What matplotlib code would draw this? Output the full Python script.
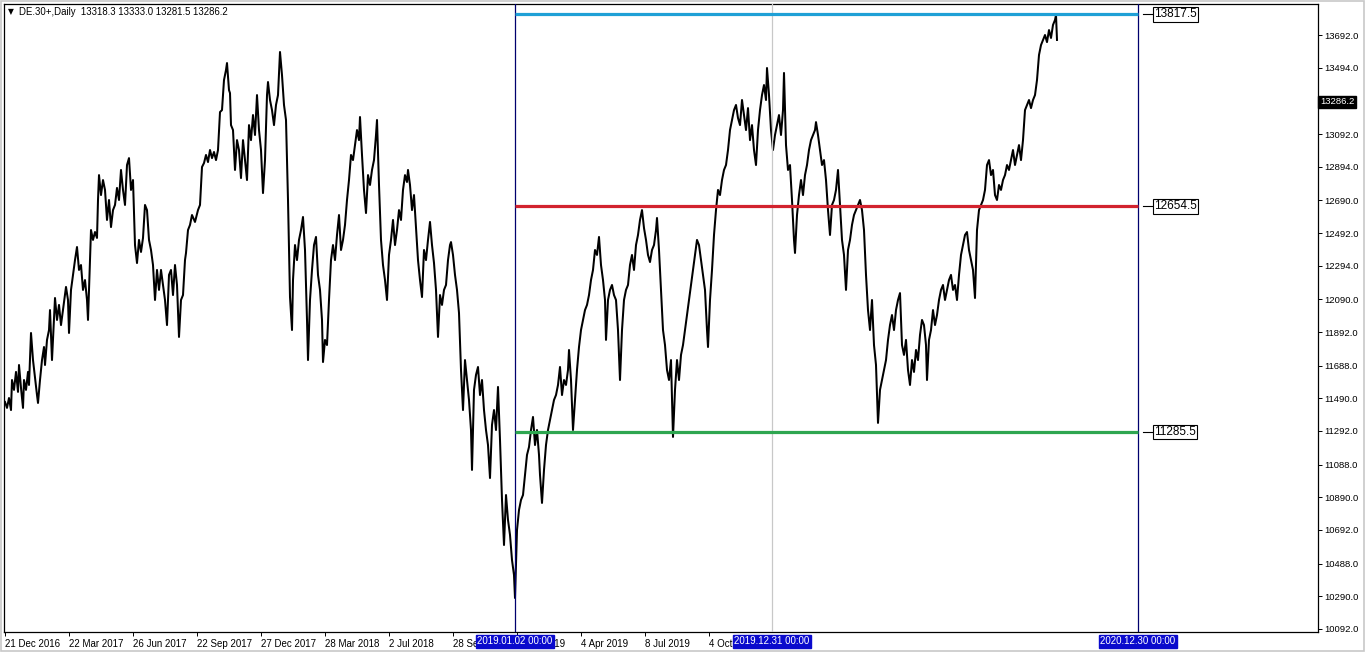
import matplotlib
matplotlib.use("Agg")
import matplotlib.pyplot as plt
from matplotlib.transforms import blended_transform_factory
import matplotlib.patches as mpatches

plt.rcParams['font.family'] = ['Liberation Sans', 'DejaVu Sans']

# ---------------- data ----------------
symbol = "DE.30+,Daily"
last_ohlc = ["13318.3", "13333.0", "13281.5", "13286.2"]
current_price = 13286.2

bar_idx = [
    0, 2, 4, 6, 7, 9, 11, 13, 14, 16, 18, 19, 21, 23, 24, 26, 28, 30, 32, 33, 35, 37, 39, 40, 42, 44, 45, 47, 49, 50,
    52, 54, 56, 58, 60, 61, 63, 64, 66, 68, 70, 72, 74, 76, 78, 80, 82, 83, 84, 86, 88, 90, 92, 93, 94, 96, 98, 100,
    102, 104, 106, 108, 110, 112, 114, 116, 118, 120, 122, 124, 126, 128, 130, 132, 134, 136, 138, 140, 142, 144,
    146, 148, 150, 152, 154, 156, 158, 160, 162, 164, 166, 168, 170, 172, 174, 176, 178, 180, 181, 183, 185, 187,
    190, 193, 195, 197, 199, 201, 203, 205, 207, 209,
    211, 213, 215, 217, 219, 221, 222, 224, 225, 226, 228, 230, 232, 234, 236, 238, 240, 242, 244, 246, 248, 250,
    252, 254, 256, 258, 260, 262, 263, 265, 267, 269, 271, 273, 275, 277, 279, 281, 283, 284, 285, 287, 288, 290,
    292, 294, 296, 298, 300, 302, 303, 305, 307, 309, 311, 313, 315, 317, 318, 320, 322, 324, 326, 328, 330, 332,
    334, 336, 338, 340, 342, 344, 346, 348, 350, 352, 354, 355, 357, 359, 361, 363, 365, 367, 369, 371, 372, 374,
    376, 378, 380, 382, 384, 386, 388, 390, 392, 394, 396, 398, 400, 402, 403, 405, 407, 409, 411, 413, 415, 417,
    419, 421, 423, 425,
    427, 429, 431, 433, 435, 437, 439, 441, 443, 445, 446, 448, 450, 452, 454, 456, 458, 460, 462, 464, 466, 467,
    469, 471, 473, 475, 477, 479, 481, 483, 485, 487, 489, 491, 493, 495, 497, 499, 501, 503, 505, 507, 509, 510,
    512, 514, 516, 518, 520, 522, 524, 526, 528, 530, 532, 534, 535, 537, 539, 541, 543, 545, 547, 549, 551, 553,
    555, 557, 559, 561, 563, 564, 566, 568, 570, 572, 574, 576, 578, 580, 582, 584, 586, 588, 590, 592, 594, 596,
    598, 600, 601, 603, 605, 607, 609, 611, 613, 615, 617, 619, 621, 623, 625, 627, 629, 631, 633, 635, 637, 639,
    641, 643, 645, 647, 649, 651, 652, 654, 656, 658, 660, 662, 664, 666, 668, 670, 672, 674, 676, 678, 680, 682,
    684, 686, 688, 690, 692, 694, 696, 698, 700, 702, 703, 705, 707, 709, 711, 713, 715, 717, 719, 721, 723, 725,
    727, 729, 731, 733, 735, 737, 739, 741, 743, 745, 747, 749, 751, 753, 755, 757, 759, 761, 762, 764, 766, 768,
    770, 772, 774, 776, 778, 779, 781, 783, 785, 787, 789, 790, 792, 794, 796, 798, 800, 802, 804, 806, 808, 810,
    811, 813, 815, 817, 819, 821, 823, 825, 827, 829, 831, 833, 835, 837, 839, 841, 843, 845, 847, 849, 851, 853,
    855,
    857, 859, 861, 863, 865, 867, 869, 871, 873, 875, 877, 879, 881, 883, 885, 887, 889, 891, 893, 895, 897, 899,
    901, 903, 905, 907, 909, 911, 913, 915, 917, 919, 921, 922, 924, 926, 928, 930, 932, 934, 936, 938, 940, 942,
    944, 946, 948, 950, 952, 954, 956, 958, 960, 962, 964, 966, 968, 970, 972, 974, 976, 978, 980, 982, 984, 986,
    988, 990, 992, 994, 996, 998, 1000, 1002, 1004, 1006, 1008, 1010, 1012, 1014, 1016, 1018, 1020, 1022, 1024,
    1026, 1028, 1030, 1032, 1034, 1036, 1038, 1040, 1042, 1044, 1046, 1048, 1050, 1051, 1052,
]

price = [
    11468, 11432, 11492, 11419, 11601, 11541, 11650, 11529, 11692, 11553, 11432, 11601, 11541, 11650, 11571, 11886,
    11722, 11613, 11510, 11462, 11601, 11722, 11801, 11692, 11844, 11904, 12025, 11722, 11965, 12098,
    11965, 12056, 11934, 12025, 12116, 12165, 12086, 11886, 12147, 12238, 12328, 12407, 12268, 12298, 12147, 12207,
    12086, 11965, 12147, 12510, 12450, 12498, 12462, 12692, 12843, 12722, 12813, 12753,
    12571, 12692, 12528, 12631, 12662, 12765, 12692, 12874, 12753, 12662, 12904, 12946, 12753, 12813, 12419, 12310,
    12450, 12377, 12462, 12662, 12631, 12450,
    12389, 12298, 12086, 12268, 12147, 12268, 12177, 12086, 11934, 12238, 12268, 12116, 12298, 12177, 11862, 12086,
    12116, 12328, 12371, 12510, 12541, 12601,
    12559, 12631, 12662, 12892, 12916, 12965, 12922, 12995, 12946, 12983,
    12934, 12995, 13225, 13237, 13419, 13480, 13522, 13358, 13340, 13146, 13116, 12874, 13055, 12995, 12825, 13055,
    12934, 12813, 13146, 13055, 13207, 13086,
    13328, 13116, 12995, 12734, 12934, 13328, 13407, 13298, 13237, 13146, 13268, 13328, 13589, 13449, 13268, 13177,
    12692, 12389, 12104, 11904, 12207, 12419,
    12328, 12450, 12510, 12589, 12389, 11965, 11722, 12086, 12268, 12419, 12468, 12238, 12147, 11965, 11710, 11844,
    11813, 12086, 12328, 12419, 12328, 12480,
    12601, 12389, 12450, 12541, 12692, 12813, 12965, 12934, 13025, 13116, 13055, 13195, 12965, 12753, 12613, 12843,
    12783, 12874, 12934, 13086, 13177, 12783,
    12450, 12298, 12207, 12086, 12359, 12450, 12571, 12419, 12510, 12631, 12571, 12753, 12843, 12801, 12874, 12783,
    12631, 12722, 12528, 12328, 12207, 12104,
    12389, 12328, 12450, 12559,
    12419, 12310, 12147, 11862, 12116, 12056, 12147, 12177, 12328, 12419, 12437, 12359, 12238, 12147, 12007, 11662,
    11419, 11722, 11601, 11480, 11298, 11056,
    11541, 11632, 11680, 11510, 11601, 11419, 11298, 11207, 11007, 11329, 11419, 11298, 11559, 11238, 10874, 10601,
    10904, 10753, 10662, 10510, 10419, 10280,
    10692, 10813, 10874, 10904, 11026, 11147, 11195, 11298, 11377, 11207, 11298, 11147, 11026, 10856, 11056, 11207,
    11298, 11359, 11419, 11480, 11510, 11571,
    11680, 11510, 11601, 11571, 11662, 11783, 11601, 11298, 11480, 11662, 11801, 11904, 11965, 12025, 12056, 12116,
    12207, 12268, 12389, 12359, 12468, 12298,
    12207, 12086, 11844, 12086, 12147, 12177, 12116, 12086, 11904, 11601, 11904, 12086, 12147, 12177, 12298, 12359,
    12268, 12419, 12480, 12571, 12631, 12522,
    12450, 12359, 12316, 12389, 12419, 12510, 12583, 12389, 12147, 11904, 11813, 11662, 11601, 11722, 11256, 11541,
    11722, 11601, 11753, 11813, 11904, 11995,
    12086, 12177, 12268, 12359, 12450, 12419, 12328, 12238, 12147, 11904, 11801, 12086, 12268, 12480, 12631, 12753,
    12722, 12813, 12874, 12904, 12995, 13116,
    13177, 13237, 13268, 13189, 13146, 13298, 13207, 13116, 13249, 13055, 13146, 12995, 12904, 13116, 13237, 13328,
    13389, 13298, 13492, 13328, 13116, 12995,
    13086, 13146, 13207, 13086, 13237, 13462, 13025, 12874, 12904, 12692, 12450, 12371, 12601, 12722, 12813, 12722,
    12843, 12904, 12995, 13055, 13086, 13116,
    13164, 13086, 12995, 12904, 12934, 12813, 12631, 12480, 12662, 12692, 12753, 12874, 12662, 12450, 12359, 12147,
    12389, 12450, 12541, 12601, 12631, 12662,
    12692,
    12631, 12510, 12238, 12025, 11904, 12086, 11813, 11692, 11341, 11541, 11601, 11662, 11722, 11844, 11934, 11995,
    11904, 12025, 12086, 12128, 11813, 11753,
    11844, 11662, 11571, 11722, 11650, 11783, 11722, 11874, 11965, 11934, 11813, 11601, 11844, 11904, 12025, 11934,
    11995, 12086, 12147, 12177, 12086, 12147,
    12207, 12238, 12147, 12177, 12086, 12238, 12359, 12419, 12480, 12498, 12389, 12328, 12268, 12098, 12510, 12631,
    12662, 12692, 12753, 12904, 12934, 12843,
    12874, 12722, 12692, 12783, 12753, 12813, 12843, 12904, 12874, 12934, 12995, 12904, 12965, 13025, 12934, 13055,
    13237, 13268, 13298,
    13249, 13298, 13328, 13419, 13571, 13631, 13662, 13692, 13649, 13722, 13674, 13753, 13783, 13813, 13662,
]

levels = [13817.5, 12654.5, 11285.5]
level_labels = ["13817.5", "12654.5", "11285.5"]
level_colors = ["#1FA0D6", "#D2232E", "#2EA650"]

vline_bars = [510, 767, 1133]
vline_labels = ["2019.01.02 00:00", "2019.12.31 00:00", "2020.12.30 00:00"]
vline_colors = ["#00006E", "#C8C8C8", "#00006E"]

date_tick_bars = [0, 64, 128, 192, 256, 320, 384, 448, 512, 576, 640, 704]
date_tick_labels = ["21 Dec 2016", "22 Mar 2017", "26 Jun 2017", "22 Sep 2017", "27 Dec 2017",
                    "28 Mar 2018", "2 Jul 2018", "28 Sep 2018", "2 Jan 2019", "4 Apr 2019",
                    "8 Jul 2019", "4 Oct 2019"]

price_ticks = [13692.0, 13494.0, 13092.0, 12894.0, 12690.0, 12492.0, 12294.0, 12090.0, 11892.0,
               11688.0, 11490.0, 11292.0, 11088.0, 10890.0, 10692.0, 10488.0, 10290.0, 10092.0]

# ---------------- figure ----------------
W, H = 1366, 655
fig = plt.figure(figsize=(W / 100, H / 100), dpi=100)
fig.patch.set_facecolor("white")

left_px, right_px, top_px, bottom_px = 4, 1318, 4, 632
ax = fig.add_axes([left_px / W, (H - bottom_px) / H, (right_px - left_px) / W, (bottom_px - top_px) / H])
ax.set_facecolor("white")
ax.set_xlim(-1, 1313)
ax.set_ylim(10073.8, 13879.9)

for sp in ax.spines.values():
    sp.set_color("black")
    sp.set_linewidth(0.9)

# price path
ax.plot(bar_idx, price, color="black", lw=1.45, zorder=2)

# vertical lines
for b, c in zip(vline_bars, vline_colors):
    ax.axvline(b, color=c, lw=0.9, zorder=3)

# horizontal levels
for lv, c, lab in zip(levels, level_colors, level_labels):
    ax.plot([vline_bars[0], vline_bars[2]], [lv, lv], color=c, lw=2.3, zorder=4, solid_capstyle="butt")
    ax.plot([vline_bars[2] + 5, vline_bars[2] + 15], [lv, lv], color="black", lw=0.8, zorder=4)
    ax.text(vline_bars[2] + 16, lv, lab, ha="left", va="center", fontsize=8.5, color="black", zorder=6,
            bbox=dict(boxstyle="square,pad=0.12", fc="white", ec="black", lw=0.8))

# axes ticks
ax.yaxis.tick_right()
ax.set_yticks(price_ticks)
ax.set_yticklabels([f"{v:.1f}" for v in price_ticks], fontsize=6.8)
ax.tick_params(axis="y", direction="out", length=3, width=0.7, pad=1.5, colors="black")

ax.set_xticks(date_tick_bars)
ax.set_xticklabels(date_tick_labels, fontsize=7)
for lab in ax.get_xticklabels():
    lab.set_horizontalalignment("left")
ax.tick_params(axis="x", direction="out", length=3, width=0.7, pad=2, colors="black")

# current price label on axis
tr = blended_transform_factory(ax.transAxes, ax.transData)
ax.text(1.0015, current_price, f"{current_price:.1f}", transform=tr, ha="left", va="center",
        fontsize=6.8, color="white", zorder=10, clip_on=False,
        bbox=dict(boxstyle="square,pad=0.2", fc="black", ec="black"))

# date labels of vertical lines
trx = blended_transform_factory(ax.transData, ax.transAxes)
for b, lab in zip(vline_bars, vline_labels):
    ax.text(b, -0.0145, lab, transform=trx, ha="center", va="center", fontsize=7, color="white",
            zorder=10, clip_on=False,
            bbox=dict(boxstyle="square,pad=0.15", fc="#0A0ACD", ec="#0A0ACD"))

# header
fig.text(8 / W, 1 - 12 / H, "\u25BC", fontsize=5.5, va="center", ha="left", color="black",
         family=["DejaVu Sans"])
fig.text(19 / W, 1 - 12 / H, symbol + "  " + " ".join(last_ohlc), fontsize=6.9, va="center",
         ha="left", color="black")

# window border
fig.add_artist(mpatches.Rectangle((1 / W, 4 / H), 1363 / W, 650 / H, transform=fig.transFigure,
                                  fill=False, ec="#C8C8C8", lw=1.2))

fig.savefig("out.png", dpi=100, facecolor="white")
